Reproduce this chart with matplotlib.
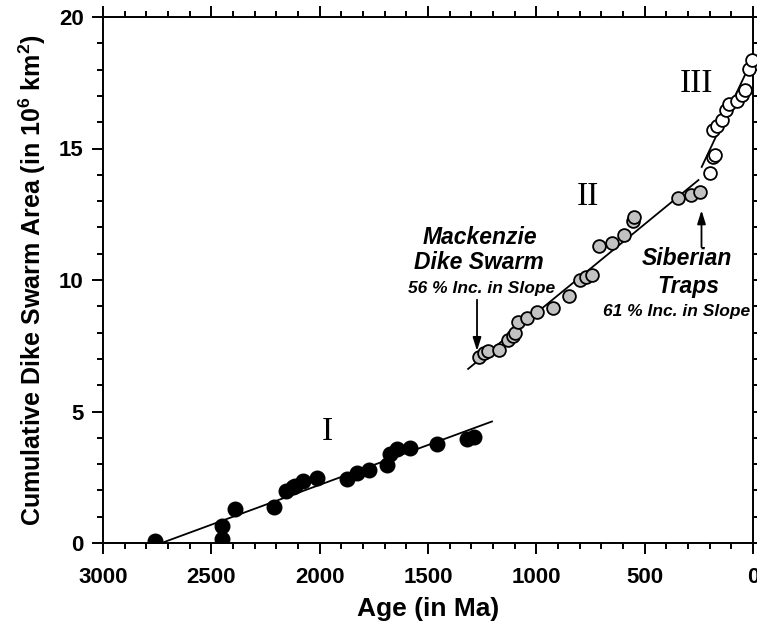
import matplotlib
matplotlib.use("Agg")
import matplotlib.pyplot as plt
from matplotlib.ticker import MultipleLocator

plt.rcParams["font.family"] = ["Liberation Sans", "DejaVu Sans"]
plt.rcParams["mathtext.fontset"] = "custom"
plt.rcParams["mathtext.rm"] = "Liberation Sans:bold"
plt.rcParams["mathtext.bf"] = "Liberation Sans:bold"

# Group I (black dots): age in Ma, cumulative area in 10^6 km^2
age_1 = [2760, 2452, 2452, 2391, 2211, 2155, 2122, 2114, 2076, 2014,
         1875, 1829, 1772, 1691, 1676, 1645, 1583, 1460, 1322, 1288]
area_1 = [0.07, 0.15, 0.64, 1.28, 1.35, 1.99, 2.14, 2.17, 2.37, 2.48,
          2.44, 2.65, 2.79, 2.98, 3.38, 3.58, 3.62, 3.76, 3.96, 4.04]

# Group II (grey dots)
age_2 = [1264, 1242, 1222, 1171, 1129, 1106, 1098, 1083, 1045, 995,
         922, 848, 799, 771, 745, 710, 653, 594, 553, 548, 345, 288, 245]
area_2 = [7.06, 7.21, 7.31, 7.34, 7.72, 7.87, 7.97, 8.41, 8.54, 8.80,
          8.95, 9.39, 10.00, 10.13, 10.19, 11.29, 11.42, 11.71, 12.25, 12.38,
          13.10, 13.23, 13.36]

# Group III (open circles)
age_3 = [199, 187, 177, 184, 165, 145, 125, 110, 76, 53, 38, 18, 3]
area_3 = [14.05, 14.69, 14.75, 15.71, 15.86, 16.10, 16.45, 16.68, 16.81,
          17.03, 17.23, 18.01, 18.35]

# fitted line end points
fit_1_age = [2730, 1205]
fit_1_area = [0.0, 4.62]
fit_2_age = [1315, 252]
fit_2_area = [6.62, 13.8]
fit_3_age = [237, 0]
fit_3_area = [14.3, 18.45]

fig = plt.figure(figsize=(7.57, 6.25), dpi=100)
ax = fig.add_axes([0.1361, 0.1312, 0.8587, 0.8416])

ax.plot(fit_1_age, fit_1_area, color="black", lw=1.3, zorder=2)
ax.plot(fit_2_age, fit_2_area, color="black", lw=1.3, zorder=2)
ax.plot(fit_3_age, fit_3_area, color="black", lw=1.3, zorder=2)

ax.plot(age_1, area_1, "o", ms=10.5, mfc="black", mec="black", zorder=3)
ax.plot(age_2, area_2, "o", ms=9.2, mfc="#c2c2c2", mec="black", mew=1.3, zorder=3)
ax.plot(age_3, area_3, "o", ms=9.2, mfc="white", mec="black", mew=1.3, zorder=3,
        clip_on=False)

ax.set_xlim(3000, 0)
ax.set_ylim(0, 20)
ax.xaxis.set_major_locator(MultipleLocator(500))
ax.xaxis.set_minor_locator(MultipleLocator(100))
ax.yaxis.set_major_locator(MultipleLocator(5))
ax.yaxis.set_minor_locator(MultipleLocator(1))
ax.tick_params(which="both", direction="out", top=True, right=True, width=1.4)
ax.tick_params(which="major", length=8, labelsize=16, pad=6)
ax.tick_params(which="minor", length=4)
ax.tick_params(axis="x", which="major", pad=9)
for lbl in ax.get_xticklabels() + ax.get_yticklabels():
    lbl.set_fontweight("bold")
for sp in ax.spines.values():
    sp.set_linewidth(1.4)

ax.set_xlabel("Age (in Ma)", fontsize=19, fontweight="bold", labelpad=7)
ax.set_ylabel(r"Cumulative Dike Swarm Area (in 10$^{6}$ km$^{2}$)",
              fontsize=18, fontweight="bold", labelpad=8)

# segment labels
ax.text(1966, 4.22, "I", family="Liberation Serif", fontsize=24,
        ha="center", va="center")
ax.text(762, 13.16, "II", family="Liberation Serif", fontsize=24,
        ha="center", va="center")
ax.text(261, 17.48, "III", family="Liberation Serif", fontsize=24,
        ha="center", va="center")

# annotations
ax.text(1260, 11.63, "Mackenzie", fontsize=16.5, fontweight="bold",
        style="italic", ha="center", va="center")
ax.text(1265, 10.65, "Dike Swarm", fontsize=16.5, fontweight="bold",
        style="italic", ha="center", va="center")
ax.text(1255, 9.66, "56 % Inc. in Slope", fontsize=12.5, fontweight="bold",
        style="italic", ha="center", va="center")
ax.annotate("", xy=(1274, 7.30), xytext=(1274, 9.25),
            arrowprops=dict(arrowstyle="-|>,head_width=0.25,head_length=0.8",
                            color="black", lw=1.3, shrinkA=0, shrinkB=0))

ax.text(305, 10.8, "Siberian", fontsize=16.5, fontweight="bold",
        style="italic", ha="center", va="center")
ax.text(300, 9.77, "Traps", fontsize=16.5, fontweight="bold",
        style="italic", ha="center", va="center")
ax.text(351, 8.82, "61 % Inc. in Slope", fontsize=12.5, fontweight="bold",
        style="italic", ha="center", va="center")
ax.annotate("", xy=(238, 12.65), xytext=(238, 11.25),
            arrowprops=dict(arrowstyle="-|>,head_width=0.25,head_length=0.8",
                            color="black", lw=1.3, shrinkA=0, shrinkB=0))

fig.savefig("out.png", dpi=100)
